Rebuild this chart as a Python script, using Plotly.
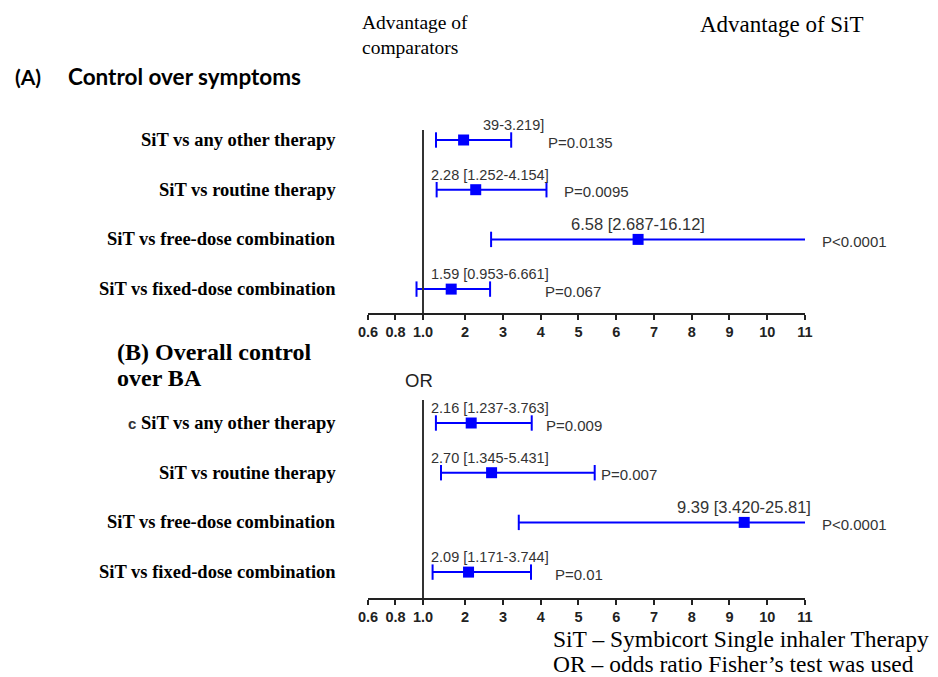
import math
import plotly.graph_objects as go

# ---------------- data ----------------
row_labels = ["SiT vs any other therapy", "SiT vs routine therapy",
              "SiT vs free-dose combination", "SiT vs fixed-dose combination"]

a_or = [1.95, 2.28, 6.58, 1.59]
a_lo = [1.239, 1.252, 2.687, 0.953]
a_hi = [3.219, 4.154, 16.12, 2.66]
a_text = ["39-3.219]", "2.28 [1.252-4.154]", "6.58 [2.687-16.12]", "1.59 [0.953-6.661]"]
a_p = ["P=0.0135", "P=0.0095", "P<0.0001", "P=0.067"]

b_or = [2.16, 2.70, 9.39, 2.09]
b_lo = [1.237, 1.345, 3.420, 1.171]
b_hi = [3.763, 5.431, 25.81, 3.744]
b_text = ["2.16 [1.237-3.763]", "2.70 [1.345-5.431]", "9.39 [3.420-25.81]", "2.09 [1.171-3.744]"]
b_p = ["P=0.009", "P=0.007", "P<0.0001", "P=0.01"]

tick_or = [0.6, 0.8, 1.0, 2, 3, 4, 5, 6, 7, 8, 9, 10, 11]
tick_text = ["0.6", "0.8", "1.0", "2", "3", "4", "5", "6", "7", "8", "9", "10", "11"]

# ---------------- layout constants ----------------
a_p_pos = [4.15, 4.57, 11.40, 4.05]
b_p_pos = [4.10, 5.55, 11.40, 4.33]

W, H = 938, 677
PX_PER_U = 38.5
K_LOG = 43 / 38.5      # width of the 1..2 (log) segment in axis units
C_LIN = 3.64           # axis units per OR unit below 1
AX_MAX = 11


def to_axis(v):
    """Segmented OR scale: linear below 1, log between 1 and 2, linear above 2."""
    if v >= 2:
        return v
    u1 = 2 - K_LOG
    if v >= 1:
        return u1 + K_LOG * math.log2(v)
    return u1 - (1 - v) * C_LIN


U_MIN = to_axis(0.6)
X0_PX = 365
X1_PX = X0_PX + (AX_MAX - U_MIN) * PX_PER_U
LEFT_U = 1.04
FULL_W_U = 119 / PX_PER_U
BLUE = "#0000FF"
SANS = "Liberation Sans, Arial"
SERIF = "Liberation Serif, Times New Roman"


def px_x(p):
    return p / W


def px_y(p):
    return 1 - p / H


def axis_to_paper(u):
    return px_x(X0_PX + (u - U_MIN) * (X1_PX - X0_PX) / (AX_MAX - U_MIN))


fig = go.Figure()
annotations = []
shapes = []

panels = [
    dict(orv=a_or, lo=a_lo, hi=a_hi, txt=a_text, p=a_p, ppos=a_p_pos,
         xa="x", ya="y", dom=(130, 313), first=140),
    dict(orv=b_or, lo=b_lo, hi=b_hi, txt=b_text, p=b_p, ppos=b_p_pos,
         xa="x2", ya="y2", dom=(400, 598), first=423),
]

for k, pn in enumerate(panels):
    n = len(pn["orv"])
    rows = list(range(n))
    lx, ly, capx, capy = [], [], [], []
    for i in rows:
        lo_u = to_axis(pn["lo"][i])
        hi_clip = min(pn["hi"][i], AX_MAX)
        hi_u = to_axis(hi_clip)
        lx += [lo_u, hi_u, None]
        ly += [i, i, None]
        capx.append(lo_u)
        capy.append(i)
        if pn["hi"][i] <= AX_MAX:
            capx.append(hi_u)
            capy.append(i)
    fig.add_trace(go.Scatter(x=lx, y=ly, mode="lines", line=dict(color=BLUE, width=2),
                             xaxis=pn["xa"], yaxis=pn["ya"], hoverinfo="skip", showlegend=False))
    fig.add_trace(go.Scatter(x=capx, y=capy, mode="markers",
                             marker=dict(symbol="line-ns", size=11, line=dict(color=BLUE, width=2)),
                             xaxis=pn["xa"], yaxis=pn["ya"], hoverinfo="skip", showlegend=False))
    fig.add_trace(go.Scatter(x=[to_axis(v) for v in pn["orv"]], y=rows, mode="markers",
                             marker=dict(symbol="square", size=11, color=BLUE),
                             xaxis=pn["xa"], yaxis=pn["ya"], showlegend=False))

    # vertical reference line at OR = 1
    shapes.append(dict(type="line", xref=pn["xa"], yref=pn["ya"] + " domain",
                       x0=to_axis(1.0), x1=to_axis(1.0), y0=0, y1=1,
                       line=dict(color="#333333", width=2)))

    for i in rows:
        u = to_axis(pn["orv"][i])
        t = pn["txt"][i]
        size = 14.5
        if not (t[0].isdigit() and t[1] == "."):
            # partly hidden label: keep the same right edge as the full labels
            ax, anc = LEFT_U + FULL_W_U, "right"
        elif u > LEFT_U + FULL_W_U:
            ax, anc, size = u, "center", 16.5
        else:
            ax, anc = LEFT_U, "left"
        annotations.append(dict(x=axis_to_paper(ax), y=i, xref="paper", yref=pn["ya"], text=t,
                                xanchor=anc, yanchor="middle", yshift=15, showarrow=False,
                                font=dict(family=SANS, size=size, color="#333333")))
        annotations.append(dict(x=axis_to_paper(pn["ppos"][i]), y=i, xref="paper", yref=pn["ya"],
                                text=pn["p"][i], xanchor="left", yanchor="middle", yshift=-2,
                                showarrow=False,
                                font=dict(family=SANS, size=15, color="#333333")))
        annotations.append(dict(x=px_x(334), y=i, xref="paper", yref=pn["ya"], text=row_labels[i],
                                xanchor="right", yanchor="middle", showarrow=False,
                                font=dict(family=SERIF, size=18.5, color="#000000", weight="bold")))

xaxis_common = dict(range=[U_MIN, AX_MAX], domain=[px_x(X0_PX), px_x(X1_PX)],
                    tickmode="array", tickvals=[to_axis(t) for t in tick_or], ticktext=tick_text,
                    showline=True, linecolor="#222222", linewidth=2,
                    ticks="outside", ticklen=5, tickwidth=2, tickcolor="#222222",
                    tickfont=dict(family=SANS, size=14.5, color="#222222", weight="bold"),
                    showgrid=False, zeroline=False, fixedrange=True)


def y_axis(pn):
    top_px, bot_px = pn["dom"]
    sp = 49.7
    first = pn["first"]
    return dict(domain=[px_y(bot_px), px_y(top_px)],
                range=[(bot_px - first) / sp, (top_px - first) / sp],
                visible=False, showgrid=False, zeroline=False, fixedrange=True)


fig.update_layout(
    xaxis=dict(anchor="y", **xaxis_common),
    xaxis2=dict(anchor="y2", **xaxis_common),
    yaxis=dict(anchor="x", **y_axis(panels[0])),
    yaxis2=dict(anchor="x2", **y_axis(panels[1])),
)


def txt(x, y, s, size, family=SERIF, weight="normal", color="#000000", anchor="left"):
    return dict(x=px_x(x), y=px_y(y), xref="paper", yref="paper", text=s,
                xanchor=anchor, yanchor="middle", showarrow=False,
                font=dict(family=family, size=size, color=color, weight=weight))


annotations += [
    txt(357, 22, "Advantage of", 19.5),
    txt(357, 48, "comparators", 19.5),
    txt(701, 24, "Advantage of SiT", 23),
    txt(3, 77, "(A)", 21, family="Lato, Liberation Sans", weight="bold"),
    txt(57, 77, "Control over symptoms", 22.5, family="Lato, Liberation Sans", weight="bold"),
    txt(107, 352, "(B) Overall control", 24, weight="bold"),
    txt(107, 378, "over BA", 24, weight="bold"),
    txt(401, 381, "OR", 18.5, family=SANS, color="#222222"),
    txt(131, 424, "c", 15, family=SANS, weight="bold", color="#333333", anchor="right"),
    txt(552, 639, "SiT – Symbicort Single inhaler Therapy", 23.5),
    txt(552, 664, "OR – odds ratio Fisher’s test was used", 23.5),
]

fig.update_layout(width=W, height=H, margin=dict(l=0, r=0, t=0, b=0),
                  paper_bgcolor="white", plot_bgcolor="white",
                  annotations=annotations, shapes=shapes, showlegend=False)

fig.write_html("out.html")
